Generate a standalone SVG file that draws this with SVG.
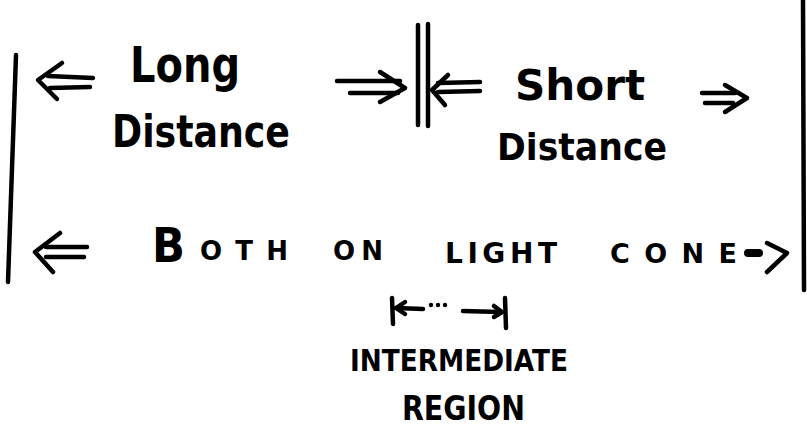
<svg xmlns="http://www.w3.org/2000/svg" width="807" height="434" viewBox="0 0 807 434">
<style>
.t{font-family:"DejaVu Sans","Liberation Sans",sans-serif;font-weight:bold;fill:#000}
.s{fill:none;stroke:#000;stroke-width:4.5;stroke-linecap:round;stroke-linejoin:round}
</style>
<rect width="807" height="434" fill="#fff"/>
<g id="connectors" class="s">
  <path d="M16,55 L8,282"/>
  <path d="M418,25 L418,125"/>
  <path d="M428,24 L428,126"/>
  <path d="M803,0 L804,290"/>
  <path d="M62,63 L38,80 L57,99"/>
  <path d="M48,76 L93,78"/>
  <path d="M50,88 L90,87"/>
  <path d="M337,81 L400,81"/>
  <path d="M350,93 L398,93"/>
  <path d="M380,72 L405,88 L380,102"/>
  <path d="M448,75 L432,90 L445,105"/>
  <path d="M438,83 L480,82"/>
  <path d="M438,92 L480,91"/>
  <path d="M702,93 L735,93"/>
  <path d="M705,103 L733,103"/>
  <path d="M725,85 L747,98 L725,112"/>
  <path d="M60,233 L35,252 L53,272"/>
  <path d="M46,247 L87,247"/>
  <path d="M46,257 L84,257"/>
  <path d="M748,253 L759,253" stroke-width="8"/>
  <path d="M767,243 L787,253 L767,272"/>
  <path d="M392,298 L393,324"/>
  <path d="M396,308 L423,309"/>
  <path d="M405,302 L396,308 L405,314"/>
  <path d="M463,311 L500,312"/>
  <path d="M494,306 L502,312 L494,317"/>
  <path d="M505,298 L506,328"/>
  <circle cx="431" cy="305" r="2.2" fill="#000" stroke="none"/>
  <circle cx="438" cy="305" r="2.2" fill="#000" stroke="none"/>
  <circle cx="445" cy="305" r="2.2" fill="#000" stroke="none"/>
</g>
<g id="long-distance">
  <text class="t" x="130" y="82" font-size="50" textLength="110" lengthAdjust="spacingAndGlyphs">Long</text>
  <text class="t" x="112" y="147" font-size="44" textLength="178" lengthAdjust="spacingAndGlyphs">Distance</text>
</g>
<g id="short-distance">
  <text class="t" x="515" y="100" font-size="42" textLength="130" lengthAdjust="spacingAndGlyphs">Short</text>
  <text class="t" x="497" y="160" font-size="38" textLength="170" lengthAdjust="spacingAndGlyphs">Distance</text>
</g>
<g id="light-cone">
  <text class="t" x="152" y="262" font-size="48" textLength="33" lengthAdjust="spacingAndGlyphs">B</text>
  <text class="t" x="200" y="260" font-size="26" textLength="88" lengthAdjust="spacing">OTH</text>
  <text class="t" x="333" y="260" font-size="26" textLength="50" lengthAdjust="spacing">ON</text>
  <text class="t" x="445" y="263" font-size="28" textLength="112" lengthAdjust="spacing">LIGHT</text>
  <text class="t" x="610" y="263" font-size="27" textLength="127" lengthAdjust="spacing">CONE</text>
</g>
<g id="intermediate-region">
  <text class="t" x="350" y="371" font-size="30" textLength="218" lengthAdjust="spacingAndGlyphs">INTERMEDIATE</text>
  <text class="t" x="402" y="420" font-size="34" textLength="123" lengthAdjust="spacingAndGlyphs">REGION</text>
</g>
</svg>
